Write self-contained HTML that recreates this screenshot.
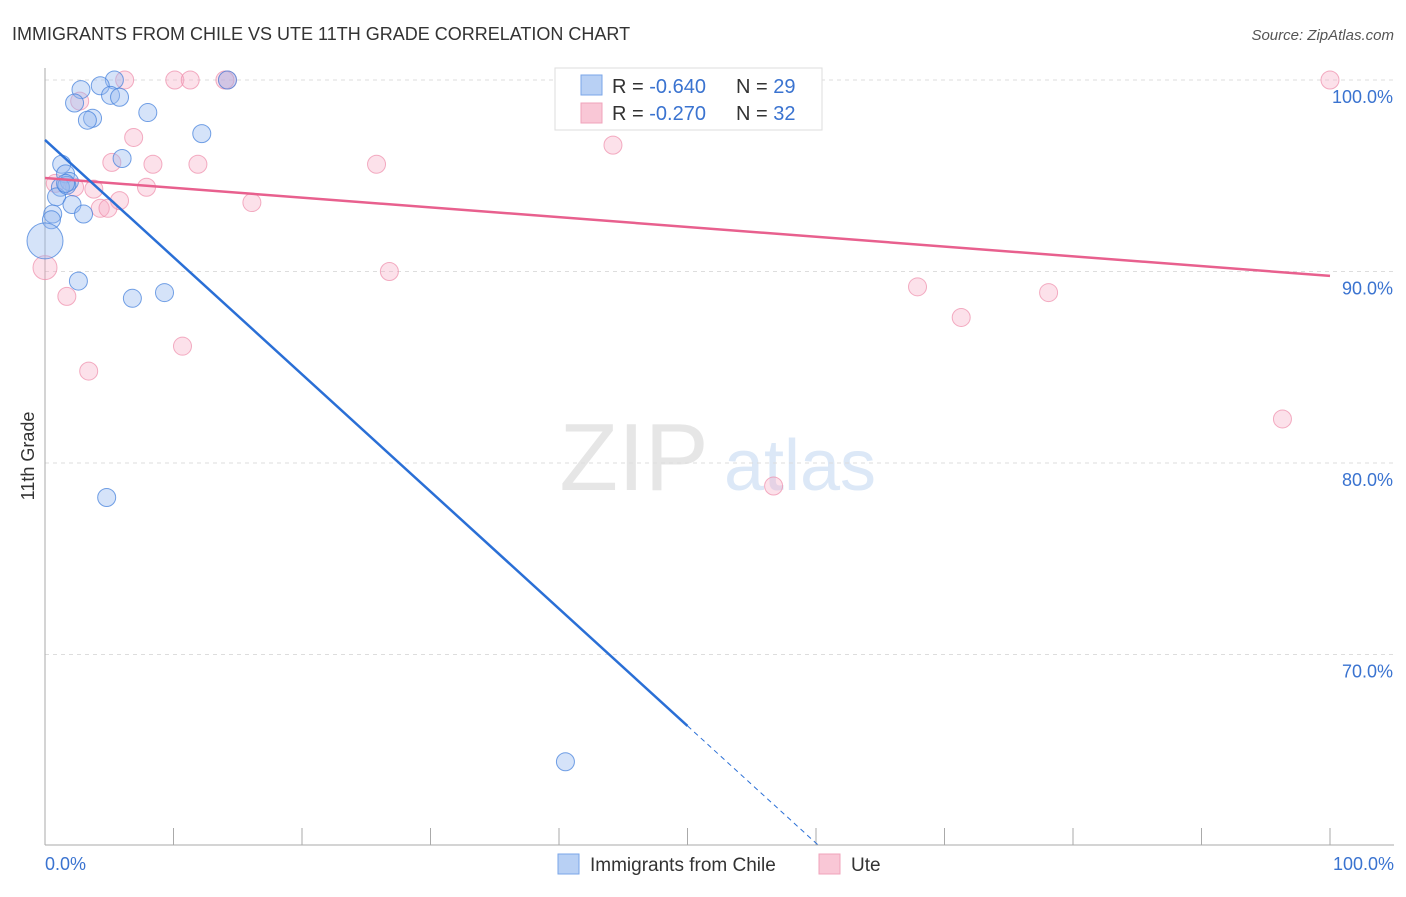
<!DOCTYPE html>
<html><head><meta charset="utf-8"><style>
body{margin:0;background:#fff;font-family:"Liberation Sans",sans-serif;}
svg text{font-family:"Liberation Sans",sans-serif;}
</style></head><body>
<svg id="chart" width="1406" height="892" viewBox="0 0 1406 892" xmlns="http://www.w3.org/2000/svg">
<text x="12" y="40" font-size="18" fill="#333">IMMIGRANTS FROM CHILE VS UTE 11TH GRADE CORRELATION CHART</text>
<text x="1394" y="40" font-size="15" fill="#555" font-style="italic" text-anchor="end">Source: ZipAtlas.com</text>
<text x="34" y="456" font-size="18" fill="#333" transform="rotate(-90 34 456)" text-anchor="middle">11th Grade</text>
<g><text x="634" y="490" font-size="96" fill="#e6e6e6" font-family="Liberation Serif" text-anchor="middle">ZIP</text><text x="800" y="490" font-size="72" fill="#dce8f7" text-anchor="middle">atlas</text></g>
<g id="grid"></g><g id="axes"></g><g id="marks"></g>
<g>
<rect x="555" y="68" width="267" height="62" fill="#fff" stroke="#ddd"/>
<rect x="581" y="75" width="21" height="20" fill="#b8d0f4" stroke="#7aa6e8"/>
<rect x="581" y="103" width="21" height="20" fill="#f9c7d6" stroke="#f0a3bb"/>
<text x="612" y="93" font-size="20" fill="#333">R = <tspan fill="#3a73d0">-0.640</tspan></text>
<text x="736" y="93" font-size="20" fill="#333">N = <tspan fill="#3a73d0">29</tspan></text>
<text x="612" y="120" font-size="20" fill="#333">R = <tspan fill="#3a73d0">-0.270</tspan></text>
<text x="736" y="120" font-size="20" fill="#333">N = <tspan fill="#3a73d0">32</tspan></text>
</g>
<g>
<rect x="558" y="854" width="21" height="20" fill="#b8d0f4" stroke="#7aa6e8"/>
<text x="590" y="871" font-size="19" fill="#333">Immigrants from Chile</text>
<rect x="819" y="854" width="21" height="20" fill="#f9c7d6" stroke="#f0a3bb"/>
<text x="851" y="871" font-size="19" fill="#333">Ute</text>
</g>
</svg>
<script>
const yTicks=[100,90,80,70];
const yTickLabels=["100.0%","90.0%","80.0%","70.0%"];
const xEndLabels=["0.0%","100.0%"];
const chileX=[5.4,4.3,2.8,5.1,5.8,2.3,8.0,3.7,3.3,12.2,6.0,1.3,1.6,1.9,1.2,0.9,2.1,3.0,0.6,0.5,0,2.6,6.8,9.3,4.8,40.5,14.2,1.7,1.6];
const chileY=[100,99.7,99.5,99.2,99.1,98.8,98.3,98.0,97.9,97.2,95.9,95.6,95.1,94.7,94.4,93.9,93.5,93.0,93.0,92.7,91.6,89.5,88.6,88.9,78.2,64.4,100,94.5,94.6];
const uteX=[6.2,10.1,11.3,14.2,52.4,100,2.7,6.9,44.2,5.2,8.4,11.9,25.8,0.8,2.3,7.9,5.8,4.3,4.9,16.1,0,26.8,1.7,10.7,3.4,67.9,71.3,78.1,96.3,56.7,14.0,3.8];
const uteY=[100,100,100,100,100,100,98.9,97.0,96.6,95.7,95.6,95.6,95.6,94.6,94.4,94.4,93.7,93.3,93.3,93.6,90.2,90.0,88.7,86.1,84.8,89.2,87.6,88.9,82.3,78.8,100,94.3];
const chileLine=[96.87,-0.612];
const uteLine=[94.88,-0.0511];
const X0=45,X1=1330,Y100=80,PXPER=19.15;
const sx=v=>X0+(X1-X0)*v/100;
const sy=v=>Y100+(100-v)*PXPER;
const NS="http://www.w3.org/2000/svg";
function mk(tag,attrs,parent){const e=document.createElementNS(NS,tag);for(const k in attrs)e.setAttribute(k,attrs[k]);document.getElementById(parent).appendChild(e);return e;}
yTicks.forEach((t,i)=>{
 const l=mk('line',{x1:45,x2:1394,y1:sy(t),y2:sy(t),stroke:'#ddd','stroke-dasharray':'4,4'},'grid');
 
 
 const tx=mk('text',{x:1393,y:sy(t)+23,'font-size':18,fill:'#3a73d0','text-anchor':'end'},'axes');
 tx.textContent=yTickLabels[i];
 
 
});
const ax=mk('line',{x1:45,x2:45,y1:68,y2:845,stroke:'#aaa'},'axes');


const bx=mk('line',{x1:45,x2:1394,y1:845,y2:845,stroke:'#aaa'},'axes');


for(let i=1;i<=10;i++){const t=mk('line',{x1:sx(i*10),x2:sx(i*10),y1:828,y2:845,stroke:'#aaa'},'axes');
 
 }
const xl0=mk('text',{x:45,y:870,'font-size':18,fill:'#3a73d0'},'axes');xl0.textContent=xEndLabels[0];


const xl1=mk('text',{x:1394,y:870,'font-size':18,fill:'#3a73d0','text-anchor':'end'},'axes');xl1.textContent=xEndLabels[1];


uteX.forEach((x,i)=>{const c=mk('circle',{cx:sx(x),cy:sy(uteY[i]),r:x===0?12:9,fill:'rgba(246,170,195,0.35)',stroke:'rgba(238,140,170,0.7)'},'marks');
 
 });
chileX.forEach((x,i)=>{const c=mk('circle',{cx:sx(x),cy:sy(chileY[i]),r:x===0?18:9,fill:'rgba(150,185,240,0.4)',stroke:'rgba(70,130,220,0.75)'},'marks');
 
 });
const ue=uteLine[0]+uteLine[1]*100;
const ul=mk('line',{x1:sx(0),y1:sy(uteLine[0]),x2:sx(100),y2:sy(ue),stroke:'#e8608e','stroke-width':2.5},'marks');


const cm=chileLine[0]+chileLine[1]*50;
const cl=mk('line',{x1:sx(0),y1:sy(chileLine[0]),x2:sx(50),y2:sy(cm),stroke:'#2a6fd6','stroke-width':2.5},'marks');


const xe=(60-chileLine[0])/chileLine[1];
const cd=mk('line',{x1:sx(50),y1:sy(cm),x2:sx(xe),y2:sy(60),stroke:'#2a6fd6','stroke-width':1,'stroke-dasharray':'5,4'},'marks');


</script>
</body></html>
